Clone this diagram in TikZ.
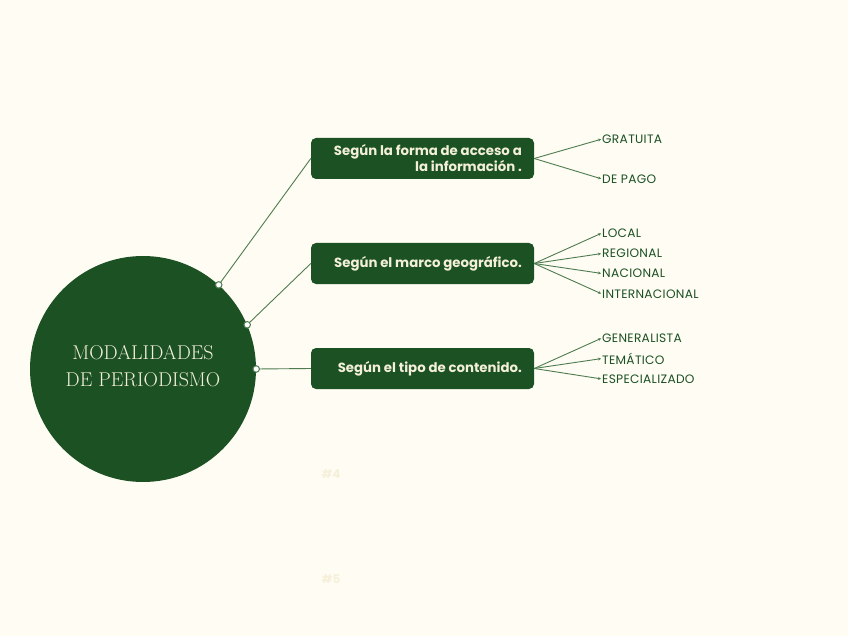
\documentclass[tikz,border=0pt]{standalone}
\usepackage{fontspec}
\newfontfamily\boxfont{Poppins}
\usetikzlibrary{arrows.meta,calc}
\definecolor{bosque}{HTML}{1B5123}
\definecolor{rama}{HTML}{4E7C4F}
\definecolor{papel}{HTML}{FEFCF3}
\definecolor{crema}{HTML}{F3EFD8}
\definecolor{fantasma}{HTML}{F6F0DA}
\tikzset{
  root/.style={
    shape = circle,
    fill = bosque,
    minimum size = 226pt,
    inner sep = 0pt
  },
  roottext/.style={
    inner sep = 0pt,
    text = crema,
    align = center,
    font = \fontsize{20}{27}\selectfont\addfontfeatures{LetterSpace=5}
  },
  topic/.style={
    fill = bosque,
    rounded corners = 5pt,
    minimum width = 223pt,
    minimum height = 41pt,
    inner sep = 0pt
  },
  topictext/.style={
    anchor = east,
    inner sep = 0pt,
    text = crema,
    font = \boxfont\bfseries\fontsize{13.3}{16}\selectfont
  },
  leaf/.style={
    anchor = west,
    inner sep = 0pt,
    text = bosque,
    font = \boxfont\fontsize{12.2}{13}\selectfont\addfontfeatures{LetterSpace=2.5}
  },
  joint/.style={
    shape = circle,
    draw = rama,
    fill = white,
    line width = 1pt,
    inner sep = 0pt,
    minimum size = 6.5pt
  },
  branch/.style={
    draw = rama,
    line width = 0.9pt
  },
  twig/.style={
    draw = rama,
    line width = 0.9pt,
    -{Stealth[length=3pt,width=3pt]},
    shorten >= 1pt
  }
}
\begin{document}
\begin{tikzpicture}[x=1pt,y=-1pt]
  \fill[papel] (0,0) rectangle (848,636);
  \useasboundingbox (0,0) rectangle (848,636);
  % centre
  \node[root] (root) at (143,369) {};
  \node[roottext] (title) at (143,366.5) {MODALIDADES\\DE PERIODISMO};
  % topics
  \node[topic] (acceso) at (422.5,158.5) {};
  \node[topictext, align=right] at (522,158.5)
        {Según la forma de acceso a\\la información .};
  \node[topic] (marco) at (422.5,263.5) {};
  \node[topictext] at (522,263.5) {Según el marco geográfico.};
  \node[topic] (tipo) at (422.5,368.5) {};
  \node[topictext] at (522,368.5) {Según el tipo de contenido.};
  % joints on the circle
  \draw[branch] (root.48.6)--(acceso.west);
  \draw[branch] (root.23.7)--(marco.west);
  \draw[branch] (root.0)--(tipo.west);
  \node[joint] (j1) at (root.48.6) {};
  \node[joint] (j2) at (root.23.7) {};
  \node[joint] (j3) at (root.0) {};
  % leaves
  \node[leaf] (gratuita) at (602,139) {GRATUITA};
  \node[leaf] (pago) at (602,179) {DE PAGO};
  \node[leaf] (local) at (602,233) {LOCAL};
  \node[leaf] (regional) at (602,253.5) {REGIONAL};
  \node[leaf] (nacional) at (602,273.5) {NACIONAL};
  \node[leaf] (inter) at (602,294) {INTERNACIONAL};
  \node[leaf] (general) at (602,338) {GENERALISTA};
  \node[leaf] (tematico) at (602,358.5) {TEMÁTICO};
  \node[leaf] (especial) at (602,379) {ESPECIALIZADO};
  \foreach \l in {gratuita,pago}
    \draw[twig] (acceso.east)--(\l.west);
  \foreach \l in {local,regional,nacional,inter}
    \draw[twig] (marco.east)--(\l.west);
  \foreach \l in {general,tematico,especial}
    \draw[twig] (tipo.east)--(\l.west);
  % placeholders
  \node[text=fantasma, inner sep=0pt, font=\boxfont\bfseries\fontsize{12}{14}\selectfont] (h4) at (331,474) {\#4};
  \node[text=fantasma, inner sep=0pt, font=\boxfont\bfseries\fontsize{12}{14}\selectfont] (h5) at (331,579) {\#5};
\end{tikzpicture}
\end{document}
